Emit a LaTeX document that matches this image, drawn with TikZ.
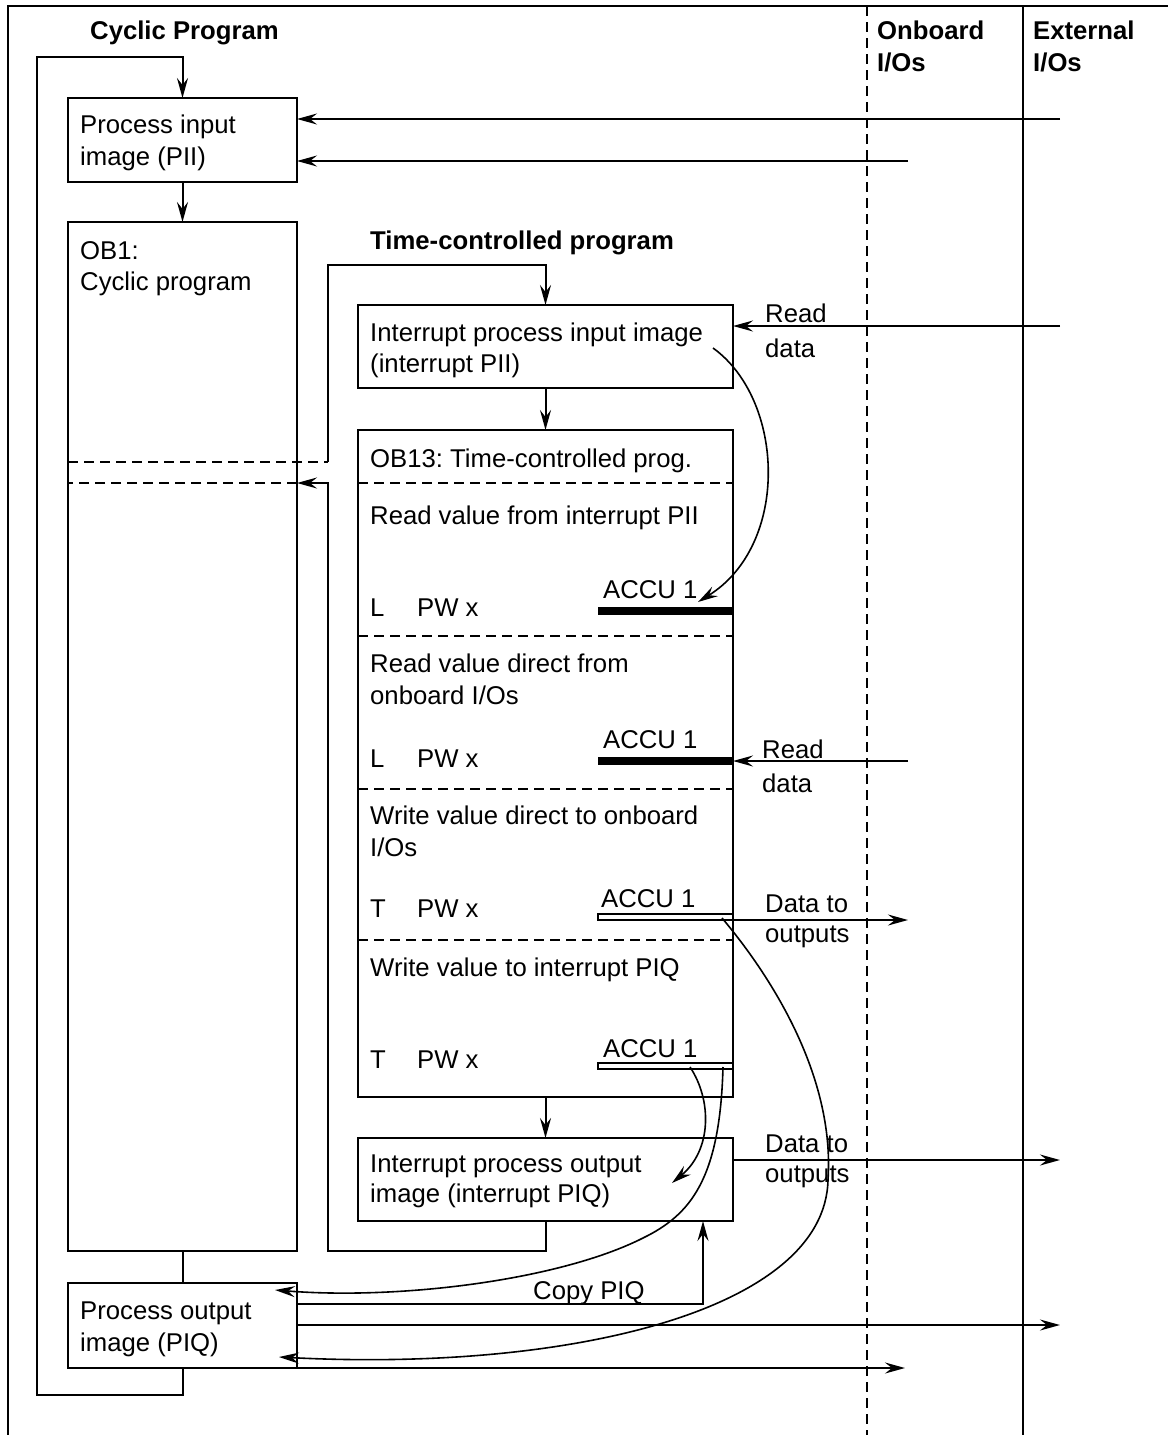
\documentclass[tikz,border=0pt]{standalone}
\usepackage{fontspec}
\setmainfont{Liberation Sans}
\usetikzlibrary{arrows.meta}
\frenchspacing
\tikzset{
 ln/.style={line width=2pt},
 box/.style={draw, line width=2pt, inner sep=0pt, outer sep=0pt, anchor=north west},
 arr/.style={line width=2pt, -{Stealth[length=20pt,width=11pt,inset=7pt]}},
 carr/.style={line width=1.6pt, -{Stealth[length=20pt,width=11pt,inset=7pt]}},
 dsh/.style={line width=2pt, dash pattern=on 10pt off 6pt},
 txt/.style={anchor=base west, inner sep=0pt, font=\fontsize{25.7}{32}\selectfont},
 btxt/.style={txt, font=\fontsize{25.7}{32}\selectfont\bfseries},
 sbar/.style={fill=black, inner sep=0pt, outer sep=0pt, minimum width=135pt, minimum height=8pt, anchor=east},
 hbar/.style={draw, line width=1.6pt, inner sep=0pt, outer sep=0pt, minimum width=135pt, minimum height=6pt, anchor=east},
}
\begin{document}
\begin{tikzpicture}[x=1pt,y=-1pt]
\useasboundingbox (0,0) rectangle (1168,1435);
% frame
\draw[ln] (8,1435) -- (8,6) -- (1168,6);
\draw[ln] (1023,6) -- (1023,1435);
\draw[dsh] (867,6) -- (867,1435);
% headers
\node[btxt] (hcyc) at (90,39) {Cyclic Program};
\node[btxt] (hon1) at (877,39) {Onboard};
\node[btxt] (hon2) at (877,71) {I/Os};
\node[btxt] (hex1) at (1033,39) {External};
\node[btxt] (hex2) at (1033,71) {I/Os};
\node[btxt] (htime) at (370,249) {Time-controlled program};
% boxes
\node[box, minimum width=229pt, minimum height=84pt] (pii) at (68,98) {};
\node[box, minimum width=229pt, minimum height=1029pt] (ob1) at (68,222) {};
\node[box, minimum width=375pt, minimum height=83pt] (ipii) at (358,305) {};
\node[box, minimum width=375pt, minimum height=667pt] (ob13) at (358,430) {};
\node[box, minimum width=375pt, minimum height=83pt] (ipiq) at (358,1138) {};
\node[box, minimum width=229pt, minimum height=85pt] (piq) at (68,1283) {};
% separators in OB13
\foreach \yy in {483,636,789,940} \draw[dsh] (ob13.west |- 0,\yy) -- (ob13.east |- 0,\yy);
% accu bars
\node[sbar] (bar1) at (733,611) {};
\node[sbar] (bar2) at (733,761) {};
\node[hbar] (bar3) at (733,917) {};
\node[hbar] (bar4) at (733,1066) {};
% texts
\node[txt] (t1) at (80,133) {Process input};
\node[txt] (t2) at (80,165) {image (PII)};
\node[txt] (t3) at (80,259) {OB1:};
\node[txt] (t4) at (80,290) {Cyclic program};
\node[txt] (t5) at (370,341) {Interrupt process input image};
\node[txt] (t6) at (370,372) {(interrupt PII)};
\node[txt] (t7) at (765,322) {Read};
\node[txt] (t8) at (765,357) {data};
\node[txt] (t9) at (370,467) {OB13: Time-controlled prog.};
\node[txt] (t10) at (370,524) {Read value from interrupt PII};
\node[txt] (t11) at (370,616) {L};
\node[txt] (t12) at (417,616) {PW x};
\node[txt] (t13) at (603,598) {ACCU 1};
\node[txt] (t14) at (370,672) {Read value direct from};
\node[txt] (t15) at (370,704) {onboard I/Os};
\node[txt] (t16) at (370,767) {L};
\node[txt] (t17) at (417,767) {PW x};
\node[txt] (t18) at (603,748) {ACCU 1};
\node[txt] (t19) at (762,758) {Read};
\node[txt] (t20) at (762,792) {data};
\node[txt] (t21) at (370,824) {Write value direct to onboard};
\node[txt] (t22) at (370,856) {I/Os};
\node[txt] (t23) at (370,917) {T};
\node[txt] (t24) at (417,917) {PW x};
\node[txt] (t25) at (601,907) {ACCU 1};
\node[txt] (t26) at (765,912) {Data to};
\node[txt] (t27) at (765,942) {outputs};
\node[txt] (t28) at (370,976) {Write value to interrupt PIQ};
\node[txt] (t29) at (370,1068) {T};
\node[txt] (t30) at (417,1068) {PW x};
\node[txt] (t31) at (603,1057) {ACCU 1};
\node[txt] (t32) at (370,1172) {Interrupt process output};
\node[txt] (t33) at (370,1202) {image (interrupt PIQ)};
\node[txt] (t34) at (765,1152) {Data to};
\node[txt] (t35) at (765,1182) {outputs};
\node[txt] (t36) at (533,1299) {Copy PIQ};
\node[txt] (t37) at (80,1319) {Process output};
\node[txt] (t38) at (80,1351) {image (PIQ)};
% cyclic loop
\coordinate (c1) at (183,1395);
\coordinate (c2) at (37,1395);
\coordinate (c3) at (37,57);
\draw[arr] (piq.south) -- (piq.south |- c1) -- (c2) -- (c3) -- (pii.north |- c3) -- (pii.north);
\draw[arr] (pii.south) -- (ob1.north);
\draw[ln] (ob1.south) -- (piq.north);
% time loop
\coordinate (tl1) at (328,462);
\coordinate (tl2) at (328,265);
\draw[dsh] (ob1.west |- tl1) -- (tl1);
\draw[arr] (tl1) -- (tl2) -- (ipii.north |- tl2) -- (ipii.north);
\coordinate (tb2) at (328,1251);
\coordinate (tb3) at (328,483);
\draw[arr] (ipiq.south) -- (ipiq.south |- tb2) -- (tb2) -- (tb3) -- (ob1.east |- tb3);
\draw[dsh] (ob1.east |- tb3) -- (ob1.west |- tb3);
\draw[arr] (ipii.south) -- (ob13.north);
\draw[arr] (ob13.south) -- (ipiq.north);
% right-side arrows
\coordinate (x1) at (1060,119);
\coordinate (o1) at (908,161);
\coordinate (x2) at (1060,326);
\coordinate (o2) at (908,761);
\coordinate (o3) at (908,920);
\coordinate (x3) at (1060,1160);
\coordinate (x4) at (1060,1325);
\coordinate (o4) at (905,1368);
\coordinate (cp) at (703,1304);
\draw[arr] (x1) -- (pii.east |- x1);
\draw[arr] (o1) -- (pii.east |- o1);
\draw[arr] (x2) -- (ipii.east |- x2);
\draw[arr] (o2) -- (bar2.east);
\draw[arr] (bar3.south east) -- (o3);
\draw[arr] (ipiq.east |- x3) -- (x3);
\draw[arr] (piq.east |- x4) -- (x4);
\draw[arr] (piq.south east) -- (o4);
\draw[arr] (piq.east |- cp) -- (cp) -- (ipiq.south -| cp);
% curved transfers
\coordinate (k1) at (713,348);
\coordinate (k1e) at (698,602);
\draw[carr] (k1) .. controls (785,400) and (790,545) .. (k1e);
\coordinate (k2) at (722,918);
\coordinate (k2m) at (828,1180);
\coordinate (k2e) at (279,1357);
\draw[carr] (k2) .. controls (770,975) and (835,1075) .. (k2m) .. controls (825,1310) and (570,1372) .. (k2e);
\coordinate (k3) at (690,1067);
\coordinate (k3e) at (672,1183);
\draw[carr] (k3) .. controls (712,1100) and (712,1150) .. (k3e);
\coordinate (k4) at (723,1067);
\coordinate (k4m) at (643,1238);
\coordinate (k4e) at (275,1290);
\draw[carr] (k4) .. controls (720,1180) and (690,1215) .. (k4m) .. controls (560,1280) and (400,1300) .. (k4e);
\end{tikzpicture}
\end{document}
